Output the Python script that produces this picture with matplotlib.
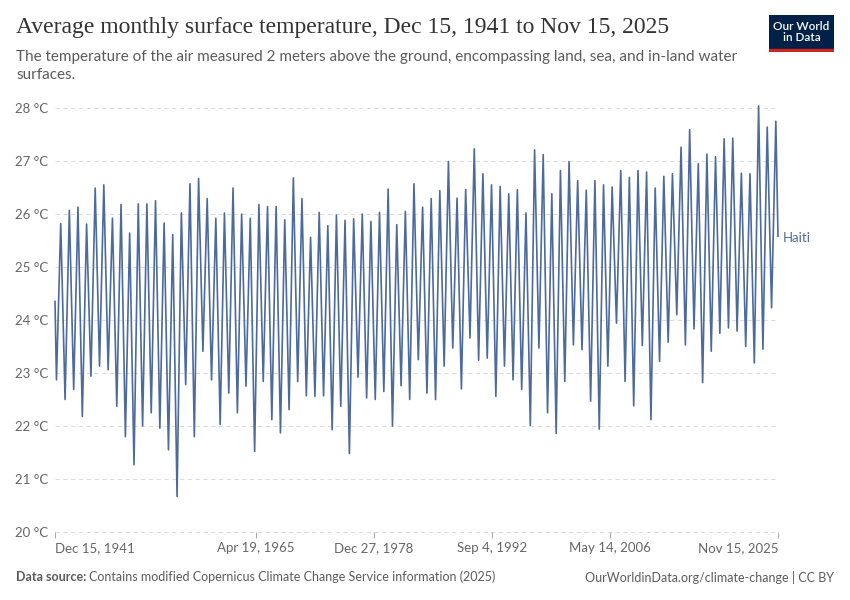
import numpy as np
import matplotlib.pyplot as plt
import pandas as pd

# Haiti, monthly mean 2 m temperature (°C):
# yearly low (around Feb) and yearly high (around Aug)
years = list(range(1942, 2026))
lows = [22.87, 22.5, 22.69, 22.18, 22.94, 23.13, 23.06, 22.37, 21.8,
        21.27, 22.0, 22.25, 21.96, 21.55, 20.67, 22.78, 21.8, 23.41, 22.87,
        22.03, 22.62, 22.25, 22.75, 21.52, 22.84, 22.12, 21.87, 22.31, 22.84,
        22.57, 22.56, 22.57, 21.93, 22.37, 21.48, 22.92, 22.53, 22.5, 22.65,
        22.0, 22.76, 22.5, 23.25, 22.62, 22.5, 23.13, 23.47, 22.7, 23.66,
        23.24, 23.28, 22.56, 23.13, 22.87, 22.69, 22.01, 23.47, 22.25, 21.86,
        22.84, 23.53, 23.44, 22.47, 21.94, 23.13, 23.94, 22.84, 22.38, 23.52,
        22.12, 23.22, 23.58, 24.1, 23.53, 23.83, 22.82, 23.41, 23.75, 23.85,
        23.79, 23.5, 23.19, 23.45, 24.23]
highs = [25.82, 26.07, 26.13, 25.81, 26.49, 26.55, 25.92, 26.18, 25.64,
         26.19, 26.19, 26.25, 25.83, 25.61, 26.02, 26.57, 26.67, 26.29, 25.92,
         26.02, 26.49, 26.0, 25.92, 26.18, 26.14, 26.14, 25.89, 26.68, 26.29,
         25.56, 26.03, 25.78, 25.98, 25.88, 25.91, 26.0, 25.86, 26.03, 26.47,
         25.8, 26.05, 26.57, 26.13, 26.29, 26.44, 26.99, 26.3, 26.46, 27.23,
         26.76, 26.55, 26.52, 26.38, 26.46, 26.02, 27.21, 27.12, 26.38, 26.82,
         26.99, 26.63, 26.45, 26.63, 26.55, 26.51, 26.82, 26.69, 26.82, 26.79,
         26.49, 26.71, 26.76, 27.26, 27.59, 26.95, 27.13, 27.08, 27.42, 27.43,
         26.77, 26.76, 28.04, 27.64, 27.75]
first_value = 24.35   # Dec 15, 1941
last_value = 25.58    # Nov 15, 2025

tick_dates = ["1941-12-15", "1965-04-19", "1978-12-27", "1992-09-04", "2006-05-14", "2025-11-15"]
tick_labels = ["Dec 15, 1941", "Apr 19, 1965", "Dec 27, 1978", "Sep 4, 1992", "May 14, 2006", "Nov 15, 2025"]
y_ticks = [20, 21, 22, 23, 24, 25, 26, 27, 28]

# build the series
dates = [pd.Timestamp("1941-12-15")]
temps = [first_value]
for y, lo, hi in zip(years, lows, highs):
    dates += [pd.Timestamp(f"{y}-02-15"), pd.Timestamp(f"{y}-08-15")]
    temps += [lo, hi]
dates.append(pd.Timestamp("2025-11-15"))
temps.append(last_value)

blue = "#4c6a9c"
grey = "#5b5b5b"
plt.rcParams['font.family'] = ['Lato', 'DejaVu Sans']

fig = plt.figure(figsize=(8.5, 6), dpi=100)
ax = fig.add_axes([55 / 850, 1 - 532 / 600, (778 - 55) / 850, (532 - 108) / 600])

ax.plot(dates, temps, color=blue, lw=1.2, clip_on=False, zorder=3)
ax.set_xlim(pd.Timestamp("1941-12-15"), pd.Timestamp("2025-11-15"))
ax.set_ylim(20, 28)

for v in y_ticks:
    ax.axhline(v, color="#dddddd", lw=0.8, ls=(0, (4, 3)), zorder=1, clip_on=False)
ax.set_yticks(y_ticks)
ax.set_yticklabels([f"{v} °C" for v in y_ticks])
ax.tick_params(axis="y", length=0, pad=5, labelsize=9.5, labelcolor="#666666")

ticks = [pd.Timestamp(d) for d in tick_dates]
ax.set_xticks(ticks)
ax.set_xticklabels(tick_labels)
ax.tick_params(axis="x", length=4, width=0.6, color="#999999", pad=3,
               labelsize=9.5, labelcolor="#666666")
xl = ax.get_xticklabels()
xl[0].set_ha("left")
xl[-1].set_ha("right")

for s in ax.spines.values():
    s.set_visible(False)

ax.text(1.007, 25.55, "Haiti", transform=ax.get_yaxis_transform(), color=blue,
        fontsize=9.5, va="center", ha="left")

# header
fig.text(16 / 850, 1 - 28 / 600, "Average monthly surface temperature, Dec 15, 1941 to Nov 15, 2025",
         family=["Liberation Serif", "DejaVu Serif"], fontsize=17, color="#333333", va="center")
fig.text(16 / 850, 1 - 66 / 600,
         "The temperature of the air measured 2 meters above the ground, encompassing land, sea, and in-land water\nsurfaces.",
         fontsize=11, color=grey, va="center", linespacing=1.3)

# logo
logo = fig.add_axes([769 / 850, 1 - 52 / 600, 65 / 850, 37 / 600])
logo.set_xlim(0, 1)
logo.set_ylim(0, 1)
logo.axis("off")
logo.add_patch(plt.Rectangle((0, 0.08), 1, 0.92, color="#002147"))
logo.add_patch(plt.Rectangle((0, 0), 1, 0.08, color="#ce261e"))
logo.text(0.5, 0.54, "Our World\nin Data", color="white", ha="center", va="center",
          fontsize=8.5, weight="semibold", linespacing=1.05)

# footer
fig.text(16 / 850, 1 - 577 / 600, "Data source:", fontsize=9, color=grey, weight="bold", va="center")
fig.text(89 / 850, 1 - 577 / 600, "Contains modified Copernicus Climate Change Service information (2025)",
         fontsize=9, color=grey, va="center")
fig.text(834 / 850, 1 - 577 / 600, "OurWorldinData.org/climate-change | CC BY",
         fontsize=9, color=grey, va="center", ha="right")

fig.savefig("out.png", dpi=100)
